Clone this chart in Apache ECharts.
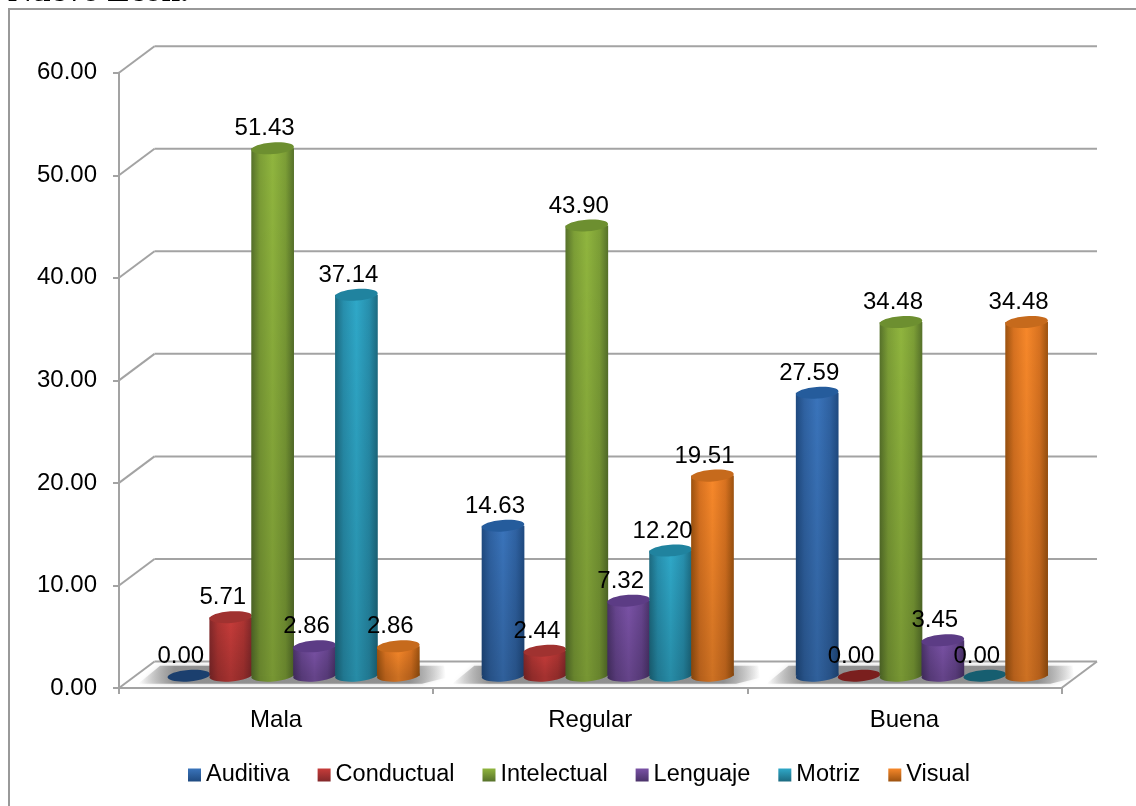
<!DOCTYPE html>
<html>
<head>
<meta charset="utf-8">
<style>html,body{margin:0;padding:0;background:#fff;overflow:hidden}#c{width:1136px;height:806px}</style>
<script src="https://cdn.jsdelivr.net/npm/echarts@6/dist/echarts.min.js"></script>
</head>
<body>
<div id="c"></div>
<script>
const categories = ['Mala', 'Regular', 'Buena'];
const yTicks = [0, 10, 20, 30, 40, 50, 60];
const seriesNames = ['Auditiva', 'Conductual', 'Intelectual', 'Lenguaje', 'Motriz', 'Visual'];
const auditiva = [0.00, 14.63, 27.59];
const conductual = [5.71, 2.44, 0.00];
const intelectual = [51.43, 43.90, 34.48];
const lenguaje = [2.86, 7.32, 3.45];
const motriz = [37.14, 12.20, 0.00];
const visual = [2.86, 19.51, 34.48];
const allValues = [auditiva, conductual, intelectual, lenguaje, motriz, visual];

// edge, shoulder, centre, top-cap, flat (zero) cap
const edgeColors = ['#1f4a80', '#82282a', '#56712a', '#4a3269', '#1c6a80', '#9c520f'];
const shoulderColors = ['#2f62a2', '#ad3432', '#7c9e36', '#67458f', '#278fad', '#d87220'];
const midColors = ['#3a74bb', '#c73c3a', '#90b53e', '#7a52a6', '#2fa8c8', '#f7882a'];
const capColors = ['#255c9c', '#a03230', '#6d8f30', '#5c3c85', '#20839f', '#c66a1c'];
const flatColors = ['#1b3f6e', '#7a1f1e', '#56712a', '#4a3269', '#165e70', '#9c520f'];

const AXIS_GRAY = '#a3a3a3';
const FONT = '"Liberation Sans", Arial, sans-serif';
const DEPTH_X = 35.5, DEPTH_Y = -26.5;
const BAR_DX = 17.5, BAR_DY = -12.3;
const BAR_FRACTION = 42 / 315;
const RY = 5.8, TILT = 0.075;

function hGrad(idx) {
  return { type: 'linear', x: 0, y: 0, x2: 1, y2: 0, colorStops: [
    { offset: 0, color: edgeColors[idx] },
    { offset: 0.2, color: shoulderColors[idx] },
    { offset: 0.5, color: midColors[idx] },
    { offset: 0.8, color: shoulderColors[idx] },
    { offset: 1, color: edgeColors[idx] }] };
}
function vGrad(a, b) {
  return { type: 'linear', x: 0, y: 0, x2: 0, y2: 1, colorStops: [
    { offset: 0, color: a }, { offset: 1, color: b }] };
}

function barRenderer(idx) {
  return function (params, api) {
    const cat = api.value(0), v = api.value(1);
    const band = api.size([1, 0])[0];
    const w = band * BAR_FRACTION;
    const base = api.coord([cat, 0]);
    const top = api.coord([cat, v]);
    const cx = base[0] + BAR_DX + (idx - 2.5) * w;
    const yb = base[1] + BAR_DY;
    const yt = top[1] + BAR_DY;
    const rx = w / 2 + 0.4;
    const children = [];
    const ell = (cy, fill, z2) => ({
      type: 'ellipse', z2,
      shape: { cx, cy, rx, ry: RY },
      rotation: TILT, originX: cx, originY: cy,
      style: { fill }
    });
    if (v > 0) {
      children.push(ell(yb, hGrad(idx), 10 + idx));
      children.push(ell(yb, 'rgba(0,0,0,0.17)', 10 + idx));
      children.push({
        type: 'rect', z2: 10 + idx,
        shape: { x: cx - rx, y: yt, width: rx * 2, height: yb - yt },
        style: { fill: hGrad(idx) }
      });
      children.push({
        type: 'rect', z2: 10 + idx,
        shape: { x: cx - rx, y: yt, width: rx * 2, height: yb - yt },
        style: { fill: vGrad('rgba(0,0,0,0)', 'rgba(0,0,0,0.17)') }
      });
      children.push(ell(yt, capColors[idx], 10 + idx));
    } else {
      children.push(ell(yb, flatColors[idx], 10 + idx));
    }
    children.push({
      type: 'text', z2: 100,
      x: cx - 8, y: yt - 19.5,
      style: {
        text: v.toFixed(2), fill: '#000',
        font: '24px ' + FONT,
        align: 'center', verticalAlign: 'middle'
      }
    });
    return { type: 'group', children };
  };
}

const barSeries = seriesNames.map((name, idx) => ({
  name, type: 'custom', silent: true, z: 5,
  itemStyle: { color: vGrad(midColors[idx], edgeColors[idx]) },
  encode: { x: 0, y: 1 },
  data: allValues[idx].map((v, i) => [i, v]),
  renderItem: barRenderer(idx)
}));

const wallSeries = {
  name: 'wall', type: 'custom', silent: true, z: 1,
  encode: { x: 0, y: 1 },
  data: yTicks.map(t => [0, t]),
  renderItem(params, api) {
    const cs = params.coordSys;
    const y = api.coord([0, api.value(1)])[1];
    const lineStyle = { stroke: AXIS_GRAY, lineWidth: 2, fill: null };
    const kids = [
      { type: 'line', shape: { x1: cs.x, y1: y, x2: cs.x + DEPTH_X, y2: y + DEPTH_Y }, style: lineStyle },
      { type: 'line', shape: { x1: cs.x + DEPTH_X, y1: y + DEPTH_Y, x2: cs.x + cs.width + DEPTH_X, y2: y + DEPTH_Y }, style: lineStyle }
    ];
    if (api.value(1) === 0) {
      kids.push({ type: 'line', shape: { x1: cs.x + cs.width, y1: y, x2: cs.x + cs.width + DEPTH_X, y2: y + DEPTH_Y }, style: lineStyle });
    }
    return { type: 'group', children: kids };
  }
};

const shadowSeries = {
  name: 'shadow', type: 'custom', silent: true, z: 2,
  encode: { x: 0, y: 1 },
  data: categories.map((c, i) => [i, 0]),
  renderItem(params, api) {
    const p = api.coord([api.value(0), 0]);
    const band = api.size([1, 0])[0];
    const cx = p[0] + BAR_DX - 1.5, yb = p[1] + BAR_DY;
    const half = band * 0.49;
    return {
      type: 'polygon',
      shape: { points: [[cx - half + 22, yb - 10], [cx + half - 2, yb - 10], [cx + half, yb + 2], [cx + half - 24, yb + 8], [cx - half, yb + 8]] },
      style: {
        fill: { type: 'linear', x: 0, y: 0, x2: 1, y2: 0, colorStops: [
          { offset: 0, color: 'rgba(140,140,140,0)' },
          { offset: 0.12, color: 'rgba(140,140,140,0.95)' },
          { offset: 0.88, color: 'rgba(140,140,140,0.95)' },
          { offset: 1, color: 'rgba(140,140,140,0)' }] },
        shadowBlur: 5, shadowColor: 'rgba(170,170,170,0.6)'
      }
    };
  }
};

const option = {
  animation: false,
  backgroundColor: '#fff',
  grid: { left: 119, top: 72.7, width: 942.5, height: 615.3 },
  legend: {
    data: seriesNames, left: 183, top: 758,
    icon: 'rect', itemWidth: 13, itemHeight: 13, itemGap: 28,
    textStyle: { color: '#000', fontSize: 23.5, fontFamily: FONT },
    selectedMode: false
  },
  xAxis: {
    type: 'category', data: categories,
    axisLine: { lineStyle: { color: AXIS_GRAY, width: 2 } },
    axisTick: { show: true, length: 6, lineStyle: { color: AXIS_GRAY, width: 2 } },
    axisLabel: { color: '#000', fontSize: 24, margin: 20, fontFamily: FONT },
    splitLine: { show: false }
  },
  yAxis: {
    type: 'value', min: 0, max: 60, interval: 10,
    axisLine: { show: true, lineStyle: { color: AXIS_GRAY, width: 2 } },
    axisTick: { show: true, length: 6, lineStyle: { color: AXIS_GRAY, width: 2 } },
    axisLabel: { color: '#000', fontSize: 24, margin: 22, fontFamily: FONT, padding: [3, 0, 0, 0],
      formatter: v => v.toFixed(2) },
    splitLine: { show: false }
  },
  graphic: [
    { type: 'polyline', silent: true, z: 0,
      shape: { points: [[1140, 9], [9, 9], [9, 810]] },
      style: { stroke: '#999', lineWidth: 2, fill: null } },
    { type: 'text', silent: true, left: 8, top: -25,
      style: { text: 'Nuevo León.', fill: '#000', font: 'bold 33.5px "Liberation Serif", serif' } }
  ],
  series: [wallSeries, shadowSeries].concat(barSeries)
};
const chart = echarts.init(document.getElementById('c'), null, { renderer: 'canvas' });
chart.setOption(option);
</script>
</body>
</html>
